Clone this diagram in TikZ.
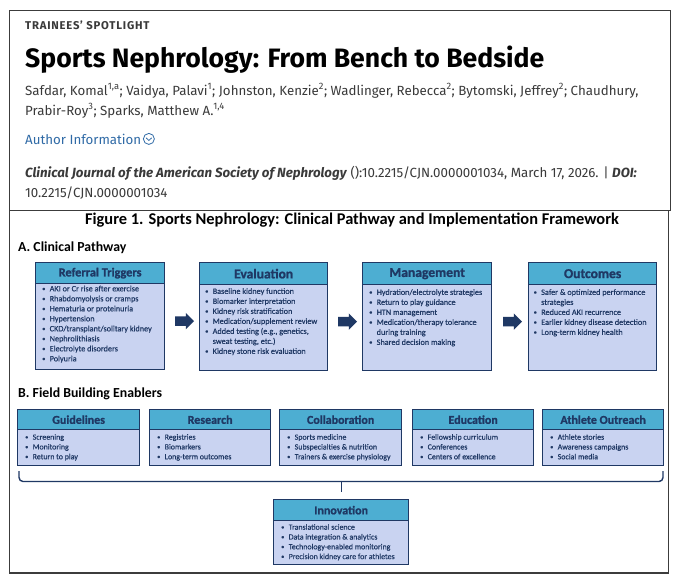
\documentclass[tikz,border=0pt]{standalone}
\usepackage{fontspec}
\setmainfont{Fira Sans}
\newfontfamily\carl{Carlito}
\newfontfamily\carlhb{Carlito}[FakeBold=1.2]
\newfontfamily\carlmd{Carlito}[FakeBold=0.4]
\usetikzlibrary{shapes.arrows,calc}
\definecolor{navy}{HTML}{1F3864}
\definecolor{hdrc}{HTML}{4DAED2}
\definecolor{bodc}{HTML}{C9D3F1}
\definecolor{ink}{HTML}{222222}
\definecolor{grayink}{HTML}{3A3A3A}
\definecolor{linkblue}{HTML}{2F6AA6}
\definecolor{framec}{HTML}{3C3C3C}
\newcommand\bu{\makebox[7.5pt][l]{\raisebox{0.5pt}{\scalebox{0.8}{\textbullet}}}}
\newcommand\ct{\hspace*{7.5pt}}
\newcommand\mkbox[7]{%
  \node[bod, minimum width=#4pt, minimum height=#6pt] (#1b) at (#2,#3+#5) {};
  \node[hdr, minimum width=#4pt, minimum height=#5pt] (#1h) at (#2,#3) {#7};
}
\begin{document}
\begin{tikzpicture}[x=1pt,y=-1pt,
  hdr/.style={draw=navy, line width=1.3pt, fill=hdrc, inner sep=0pt, anchor=north west,
    font=\carlhb\bfseries\fontsize{13.6}{15}\selectfont, text=navy},
  bod/.style={draw=navy, line width=1.3pt, fill=bodc, inner sep=0pt, anchor=north west},
  btxt/.style={anchor=north west, inner sep=0pt, align=left,
    font=\carlmd\fontsize{8.2}{10}\selectfont, text=navy},
  etxt/.style={btxt, font=\carlmd\fontsize{7.9}{9.8}\selectfont},
  barrow/.style={single arrow, fill=navy, draw=none, minimum height=19pt,
    single arrow head extend=3.5pt, inner sep=4.5pt},
  frame/.style={draw=framec, line width=1pt},
  txt/.style={inner sep=0pt, anchor=base west, text=ink}
]
\useasboundingbox (0,0) rectangle (680,579);
\fill[white] (0,0) rectangle (680,579);

% frames
\draw[frame] (9,10) rectangle (670,210);
\draw[frame] (9,210) -- (9,573) -- (668,573) -- (668,210);
\draw[framec, line width=1.8pt] (9,573) -- (668,573);

% header text
\node[txt, text=grayink, font=\bfseries\fontsize{11.3}{13}\selectfont\addfontfeatures{LetterSpace=7}] (kick) at (25,29) {TRAINEES' SPOTLIGHT};
\node[txt, text=black, font=\bfseries\fontsize{26.6}{30}\selectfont] (title) at (25,67) {Sports Nephrology: From Bench to Bedside};
\node[txt, text=grayink, font=\fontsize{13.3}{20}\selectfont] (au1) at (25,95) {Safdar, Komal\textsuperscript{1,a}; Vaidya, Palavi\textsuperscript{1}; Johnston, Kenzie\textsuperscript{2}; Wadlinger, Rebecca\textsuperscript{2}; Bytomski, Jeffrey\textsuperscript{2}; Chaudhury,};
\node[txt, text=grayink, font=\fontsize{13.3}{20}\selectfont] (au2) at (25,115) {Prabir-Roy\textsuperscript{3}; Sparks, Matthew A.\textsuperscript{1,4}};
\node[txt, text=linkblue, font=\fontsize{13.3}{20}\selectfont] (ai) at (25,144) {Author Information};
\node[circle, draw=linkblue, line width=0.8pt, minimum size=11pt, inner sep=0pt, anchor=west] (aicon) at ($(ai.east)+(1.5,0)$) {};
\draw[linkblue, line width=0.8pt] ($(aicon.center)+(-2.8,-1.1)$) -- ($(aicon.center)+(0,1.6)$) -- ($(aicon.center)+(2.8,-1.1)$);
\node[txt, text=grayink, font=\fontsize{13.3}{20}\selectfont] (j1) at (25,177) {\textbf{\textit{Clinical Journal of the American Society of Nephrology}} ():10.2215/CJN.0000001034, March 17, 2026. | \textbf{\textit{DOI:}}};
\node[txt, text=grayink, font=\fontsize{13.3}{20}\selectfont] (j2) at (25,197) {10.2215/CJN.0000001034};

% figure
\node[inner sep=0pt, anchor=base, text=black, font=\carl\bfseries\fontsize{16.4}{19}\selectfont] (ftitle) at (352,224) {Figure 1. Sports Nephrology: Clinical Pathway and Implementation Framework};
\node[txt, text=black, font=\carl\bfseries\fontsize{13.8}{16}\selectfont] (secA) at (18,251) {A. Clinical Pathway};
\node[txt, text=black, font=\carl\bfseries\fontsize{13.8}{16}\selectfont] (secB) at (18,397) {B. Field Building Enablers};

% pathway boxes
\mkbox{p1}{35}{262}{129}{21}{86}{{\fontsize{12.3}{14}\selectfont Referral Triggers}}
\mkbox{p2}{199}{262}{128}{22}{86}{Evaluation}
\mkbox{p3}{362}{262}{129}{22}{86}{Management}
\mkbox{p4}{528}{262}{128}{22}{86}{Outcomes}

\node[btxt] (t1) at (42,285.5) {\bu AKI or Cr rise after exercise\\ \bu Rhabdomyolysis or cramps\\ \bu Hematuria or proteinuria\\ \bu Hypertension\\ \bu CKD/transplant/solitary kidney\\ \bu Nephrolithiasis\\ \bu Electrolyte disorders\\ \bu Polyuria};
\node[btxt] (t2) at (205,288) {\bu Baseline kidney function\\ \bu Biomarker interpretation\\ \bu Kidney risk stratification\\ \bu Medication/supplement review\\ \bu Added testing (e.g., genetics,\\ \ct sweat testing, etc.)\\ \bu Kidney stone risk evaluation};
\node[btxt] (t3) at (369,289) {\bu Hydration/electrolyte strategies\\ \bu Return to play guidance\\ \bu HTN management\\ \bu Medication/therapy tolerance\\ \ct during training\\ \bu Shared decision making};
\node[btxt] (t4) at (533.5,289) {\bu Safer \& optimized performance\\ \ct strategies\\ \bu Reduced AKI recurrence\\ \bu Earlier kidney disease detection\\ \bu Long-term kidney health};

% arrows
\node[barrow, yshift=6pt] (a1) at ($(p1b.east)!0.5!(p2b.west)$) {};
\node[barrow, yshift=6pt] (a2) at ($(p2b.east)!0.5!(p3b.west)$) {};
\node[barrow, yshift=6pt] (a3) at ($(p3b.east)!0.5!(p4b.west)$) {};

% enablers
\mkbox{e1}{17}{409}{122}{20}{36}{{\fontsize{12}{14}\selectfont Guidelines}}
\mkbox{e2}{149}{409}{121}{20}{36}{{\fontsize{12}{14}\selectfont Research}}
\mkbox{e3}{279}{409}{122}{20}{36}{{\fontsize{12}{14}\selectfont Collaboration}}
\mkbox{e4}{412}{409}{121}{20}{36}{{\fontsize{12}{14}\selectfont Education}}
\mkbox{e5}{542}{409}{121}{20}{36}{{\fontsize{12}{14}\selectfont Athlete Outreach}}

\node[etxt] (u1) at (25,434) {\bu Screening\\ \bu Monitoring\\ \bu Return to play};
\node[etxt] (u2) at (157,434) {\bu Registries\\ \bu Biomarkers\\ \bu Long-term outcomes};
\node[etxt] (u3) at (287,434) {\bu Sports medicine\\ \bu Subspecialties \& nutrition\\ \bu Trainers \& exercise physiology};
\node[etxt] (u4) at (420,434) {\bu Fellowship curriculum\\ \bu Conferences\\ \bu Centers of excellence};
\node[etxt] (u5) at (550,434) {\bu Athlete stories\\ \bu Awareness campaigns\\ \bu Social media};

% brace
\coordinate (bl) at (19,471);
\coordinate (br) at (663,471);
\draw[navy, line width=1.4pt, rounded corners=4pt] (bl) -- (19,481.5) -- (663,481.5) -- (br);
\coordinate (bt) at (341.5,481.5);
\draw[navy, line width=1.8pt] (bt) -- ++(0,10.5);

% innovation
\mkbox{in}{273}{499}{135}{21}{44}{{\fontsize{12}{14}\selectfont Innovation}}
\node[etxt] (u6) at (281,524) {\bu Translational science\\ \bu Data integration \& analytics\\ \bu Technology-enabled monitoring\\ \bu Precision kidney care for athletes};
\end{tikzpicture}
\end{document}
